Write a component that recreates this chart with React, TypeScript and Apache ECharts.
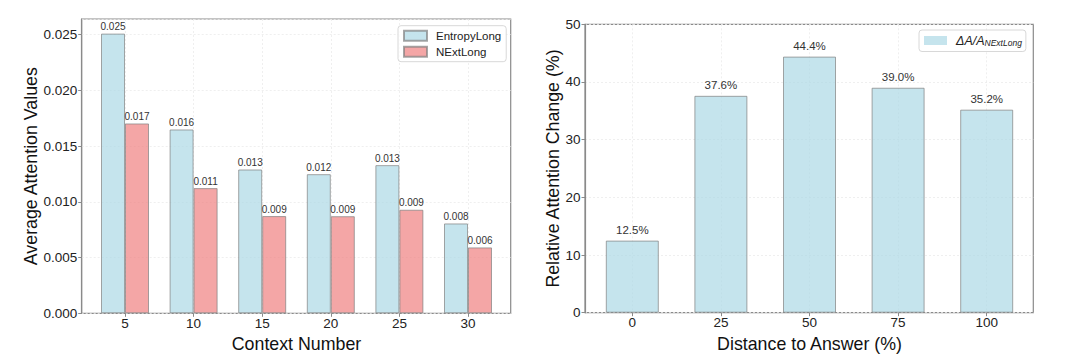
import React, { useEffect, useRef } from "react";
import * as echarts from "echarts";

// ---- data ----
const contextNumbers = ["5", "10", "15", "20", "25", "30"];
const entropyLong = [0.02509, 0.01649, 0.0129, 0.01248, 0.01329, 0.00806];
const nextLong = [0.01703, 0.01123, 0.00872, 0.00871, 0.00929, 0.00591];

const distances = ["0", "25", "50", "75", "100"];
const relativeChange = [12.5, 37.6, 44.4, 39.0, 35.2];

const RIGHT_NAME = "ΔA/A_NExtLong";
const FONT = "'Liberation Sans', Arial, Helvetica, sans-serif";

const gridLine = { show: true, lineStyle: { type: [2, 2] as any, color: "#ebebeb", width: 0.8 } };
const spine = "#8a8a8a";
const NAME_SIZE = 17.8;

export default function App() {
  const ref = useRef<HTMLDivElement>(null);
  useEffect(() => {
    if (!ref.current) return;
    const chart = echarts.init(ref.current, undefined, { renderer: "svg" });
    const blue = "rgba(173,216,230,0.7)";
    const red = "rgba(240,128,128,0.7)";
    const edge = "rgba(128,128,128,0.7)";
    chart.setOption({
      animation: false,
      textStyle: { fontFamily: FONT },
      grid: [
        { left: 81.7, top: 19, width: 429, height: 294.3, show: true, borderColor: spine, borderWidth: 1.2, backgroundColor: "transparent" },
        { left: 125, top: 19, width: 343, height: 294.3 },
        { left: 585, top: 24.3, width: 448.3, height: 288.4, show: true, borderColor: spine, borderWidth: 1.2, backgroundColor: "transparent" },
        { left: 632.3, top: 24.3, width: 354.4, height: 288.4 },
      ],
      xAxis: [
        { gridIndex: 0, type: "value", show: false, min: 0, max: 1 },
        {
          gridIndex: 1,
          type: "category",
          data: contextNumbers,
          boundaryGap: false,
          axisLine: { show: false },
          axisTick: { show: true, length: 3.5, interval: 0, lineStyle: { color: spine } },
          axisLabel: { interval: 0, fontSize: 13.5, color: "#222", margin: 3 },
          splitLine: { ...gridLine, interval: 0 },
          name: "Context Number",
          nameLocation: "middle",
          nameGap: 16,
          nameTextStyle: { fontSize: NAME_SIZE, color: "#111" },
        },
        { gridIndex: 2, type: "value", show: false, min: 0, max: 1 },
        {
          gridIndex: 3,
          type: "category",
          data: distances,
          boundaryGap: false,
          axisLine: { show: false },
          axisTick: { show: true, length: 3.5, interval: 0, lineStyle: { color: spine } },
          axisLabel: { interval: 0, fontSize: 13.5, color: "#222", margin: 3 },
          splitLine: { ...gridLine, interval: 0 },
          name: "Distance to Answer (%)",
          nameLocation: "middle",
          nameGap: 16,
          nameTextStyle: { fontSize: NAME_SIZE, color: "#111" },
        },
      ],
      yAxis: [
        {
          gridIndex: 0,
          type: "value",
          min: 0,
          max: 0.0264,
          interval: 0.005,
          axisLine: { show: true, lineStyle: { color: spine, width: 1.2 } },
          axisTick: { show: true, length: 3.5, lineStyle: { color: spine } },
          axisLabel: {
            fontSize: 13.5,
            color: "#222",
            margin: 4.5,
            showMaxLabel: false,
            formatter: (v: number) => v.toFixed(3),
          },
          splitLine: gridLine,
          name: "Average Attention Values",
          nameLocation: "middle",
          nameGap: 41,
          nameTextStyle: { fontSize: NAME_SIZE, color: "#111" },
        },
        { gridIndex: 1, type: "value", min: 0, max: 0.0264, show: false, splitLine: { show: false } },
        {
          gridIndex: 2,
          type: "value",
          min: 0,
          max: 50,
          interval: 10,
          axisLine: { show: true, lineStyle: { color: spine, width: 1.2 } },
          axisTick: { show: true, length: 3.5, lineStyle: { color: spine } },
          axisLabel: { fontSize: 13.5, color: "#222", margin: 4.5 },
          splitLine: gridLine,
          name: "Relative Attention Change (%)",
          nameLocation: "middle",
          nameGap: 22,
          nameTextStyle: { fontSize: NAME_SIZE, color: "#111" },
        },
        { gridIndex: 3, type: "value", min: 0, max: 50, show: false, splitLine: { show: false } },
      ],
      legend: [
        {
          data: ["EntropyLong", "NExtLong"],
          orient: "vertical",
          left: 398,
          top: 25.7,
          icon: "rect",
          itemWidth: 23,
          itemHeight: 10,
          itemGap: 4,
          backgroundColor: "rgba(255,255,255,0.8)",
          borderColor: "#d8d8d8",
          borderWidth: 1,
          borderRadius: 3,
          padding: [4, 5, 4, 5],
          textStyle: { fontSize: 11.5, color: "#222", padding: [0, 0, 0, 4] },
        },
        {
          data: [RIGHT_NAME],
          orient: "vertical",
          left: 919,
          top: 30,
          icon: "rect",
          itemWidth: 23,
          itemHeight: 9,
          backgroundColor: "rgba(255,255,255,0.8)",
          borderColor: "#d8d8d8",
          borderWidth: 1,
          borderRadius: 3,
          padding: [4, 4, 4, 5],
          itemStyle: { borderWidth: 0 },
          formatter: () => "{i|ΔA/A}{s|NExtLong}",
          textStyle: {
            padding: [0, 0, 0, 4],
            rich: {
              i: { fontSize: 12.5, fontStyle: "italic", color: "#222", fontFamily: FONT },
              s: { fontSize: 8.5, fontStyle: "italic", color: "#222", fontFamily: FONT, padding: [5, 0, 0, 0] },
            },
          },
        },
      ],
      series: [
        {
          name: "EntropyLong",
          type: "bar",
          xAxisIndex: 1,
          yAxisIndex: 1,
          data: entropyLong,
          barWidth: 24,
          barGap: "0%",
          clip: false,
          itemStyle: { color: blue, borderColor: edge, borderWidth: 1 },
          label: { show: true, position: "top", distance: 2, fontSize: 10, color: "#333", formatter: (p: any) => p.value.toFixed(3) },
        },
        {
          name: "NExtLong",
          type: "bar",
          xAxisIndex: 1,
          yAxisIndex: 1,
          data: nextLong,
          barWidth: 24,
          barGap: "0%",
          clip: false,
          itemStyle: { color: red, borderColor: edge, borderWidth: 1 },
          label: { show: true, position: "top", distance: 2, fontSize: 10, color: "#333", formatter: (p: any) => p.value.toFixed(3) },
        },
        {
          name: RIGHT_NAME,
          type: "bar",
          xAxisIndex: 3,
          yAxisIndex: 3,
          data: relativeChange,
          barWidth: 53,
          clip: false,
          itemStyle: { color: blue, borderColor: edge, borderWidth: 1 },
          label: { show: true, position: "top", distance: 5, fontSize: 11.5, color: "#333", formatter: (p: any) => p.value.toFixed(1) + "%" },
        },
      ],
    });
    return () => chart.dispose();
  }, []);
  return (
    <div
      ref={ref}
      style={{ position: "fixed", left: 0, top: 0, width: 1080, height: 361, background: "#fff" }}
    />
  );
}
